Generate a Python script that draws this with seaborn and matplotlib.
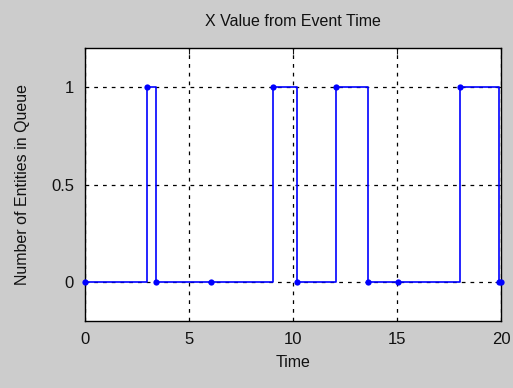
import matplotlib
matplotlib.use('Agg')
import matplotlib.pyplot as plt
import seaborn as sns
import pandas as pd

# event times and queue length
event_time = [0, 3.0, 3.4, 6.05, 9.05, 10.2, 12.05, 13.6, 15.05, 18.05, 19.9, 20.0]
queue_len = [0, 1, 0, 0, 1, 0, 1, 0, 0, 1, 0, 0]
x_ticks = [0, 5, 10, 15, 20]
y_ticks = [0, 0.5, 1]
y_tick_labels = ['0', '0.5', '1']

df = pd.DataFrame({'t': event_time, 'n': queue_len})

sns.set_style('white')
plt.rcParams['font.family'] = ['Liberation Sans', 'DejaVu Sans']
plt.rcParams['text.color'] = '#111111'
plt.rcParams['axes.labelcolor'] = '#111111'

fig = plt.figure(figsize=(5.13, 3.88), dpi=100, facecolor='#cccccc')
ax = fig.add_axes([0.1657, 0.1727, 0.8109, 0.7033])
ax.set_facecolor('white')

sns.lineplot(data=df, x='t', y='n', ax=ax, color='#0000ff', linewidth=1.2,
             drawstyle='steps-post', marker='o', markersize=4.5,
             markeredgewidth=0, estimator=None, sort=False, zorder=3,
             clip_on=False)

ax.set_xlim(0, 20)
ax.set_ylim(-0.2, 1.2)
ax.set_xticks(x_ticks)
ax.set_xticklabels([str(v) for v in x_ticks])
ax.set_yticks(y_ticks)
ax.set_yticklabels(y_tick_labels)
ax.grid(True, color='black', linestyle=(0, (3, 4)), linewidth=0.9)
ax.tick_params(direction='in', length=4, top=True, right=True, labelsize=12,
               colors='#111111', pad=8)
for s in ax.spines.values():
    s.set_color('black')
    s.set_linewidth(1.0)

ax.set_title('X Value from Event Time', fontsize=11.5, pad=16)
ax.set_xlabel('Time', fontsize=11.5, labelpad=6)
ax.set_ylabel('Number of Entities in Queue', fontsize=11.5, labelpad=15)

fig.savefig('out.png', dpi=100, facecolor=fig.get_facecolor())
